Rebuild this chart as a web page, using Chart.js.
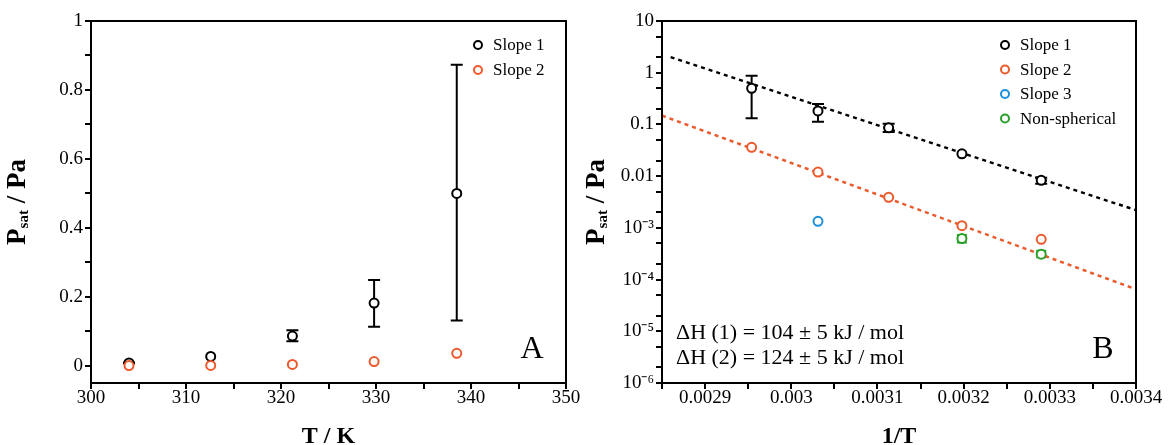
<!DOCTYPE html>
<html>
<head>
<meta charset="utf-8">
<title>Saturation vapour pressure</title>
<script src="https://cdn.jsdelivr.net/npm/chart.js@4/dist/chart.umd.min.js"></script>
<style>
  html, body { margin: 0; padding: 0; background: #fff; }
  #wrap { position: relative; width: 1168px; height: 445px; }
  #chartA { position: absolute; left: 0; top: 0; }
  #chartB { position: absolute; left: 580px; top: 0; }
</style>
</head>
<body>
<div id="wrap">
  <canvas id="chartA" width="580" height="445"></canvas>
  <canvas id="chartB" width="588" height="445"></canvas>
</div>
<script>
// measured points, same order in every array (low T first)
const tempK = [304.0, 312.6, 321.2, 329.8, 338.5];
const invT = [0.003290, 0.003198, 0.003113, 0.003031, 0.002954];
const slope1P = [0.0083, 0.027, 0.086, 0.182, 0.50];
const slope1Lo = [0.0071, 0.027, 0.071, 0.113, 0.131];
const slope1Hi = [0.0093, 0.027, 0.103, 0.249, 0.873];
const slope2P = [0.0006, 0.0011, 0.0039, 0.012, 0.036];

const slope3X = [0.003031];
const slope3P = [0.00134];

const nonSphX = [0.003290, 0.003198];
const nonSphP = [0.00031, 0.00062];
const nonSphLo = [0.00027, 0.00052];
const nonSphHi = [0.00036, 0.00073];

// Clausius-Clapeyron fit lines (end points)
const fit1X = [0.00286, 0.0034];
const fit1P = [2.0, 0.0022];
const fit2X = [0.00285, 0.0034];
const fit2P = [0.148, 0.000065];

// ticks
const tempTicks = [300, 305, 310, 315, 320, 325, 330, 335, 340, 345, 350];
const pressTicksA = [0, 0.1, 0.2, 0.3, 0.4, 0.5, 0.6, 0.7, 0.8, 0.9, 1];
const invTTicks = [0.00285, 0.0029, 0.00295, 0.003, 0.00305, 0.0031, 0.00315, 0.0032, 0.00325, 0.0033, 0.00335, 0.0034];
const pressTicksB = [1e-6, 2e-6, 5e-6, 1e-5, 2e-5, 5e-5, 1e-4, 2e-4, 5e-4, 1e-3, 2e-3, 5e-3,
  0.01, 0.02, 0.05, 0.1, 0.2, 0.5, 1, 2, 5, 10];

const BLACK = '#000000';
const ORANGE = '#ec5a2c';
const BLUE = '#1c8fd8';
const GREEN = '#2a9f2a';
const SERIF = "'Liberation Serif', 'Times New Roman', serif";

const pts = (xs, ys) => xs.map((x, i) => ({ x, y: ys[i] }));

function pointSet(label, xs, ys, color, order, extra) {
  return Object.assign({
    type: 'scatter',
    label,
    data: pts(xs, ys),
    borderColor: color,
    backgroundColor: '#ffffff',
    pointRadius: 4.5,
    pointBorderWidth: 2,
    pointHoverRadius: 4.5,
    order
  }, extra || {});
}

function fitSet(xs, ys, color) {
  return {
    type: 'line',
    label: '',
    data: pts(xs, ys),
    borderColor: color,
    borderWidth: 2.5,
    borderDash: [4, 4],
    pointRadius: 0,
    fill: false,
    order: 10,
    isFit: true
  };
}

// vertical error bars with caps, under the markers
const errorBars = {
  id: 'errorBars',
  beforeDatasetsDraw(chart) {
    const ctx = chart.ctx;
    const yScale = chart.scales.y;
    chart.data.datasets.forEach((ds, di) => {
      if (!ds.errLo) return;
      const meta = chart.getDatasetMeta(di);
      ctx.save();
      ctx.strokeStyle = ds.borderColor;
      ctx.lineWidth = 2;
      meta.data.forEach((el, i) => {
        if (ds.errLo[i] === ds.errHi[i]) return;
        const yl = yScale.getPixelForValue(ds.errLo[i]);
        const yh = yScale.getPixelForValue(ds.errHi[i]);
        const w = ds.capHalf || 6;
        ctx.beginPath();
        ctx.moveTo(el.x, yl); ctx.lineTo(el.x, yh);
        ctx.moveTo(el.x - w, yl); ctx.lineTo(el.x + w, yl);
        ctx.moveTo(el.x - w, yh); ctx.lineTo(el.x + w, yh);
        ctx.stroke();
      });
      ctx.restore();
    });
  }
};

// box frame, axis title with subscript, legend and panel notes
const decorations = {
  id: 'decorations',
  afterDraw(chart, args, opts) {
    const ctx = chart.ctx;
    const a = chart.chartArea;
    ctx.save();
    ctx.strokeStyle = BLACK;
    ctx.lineWidth = 2;
    ctx.strokeRect(a.left, a.top, a.right - a.left, a.bottom - a.top);

    // y title: P_sat / Pa
    const cy = (a.top + a.bottom) / 2;
    ctx.translate(opts.yTitleX, cy);
    ctx.rotate(-Math.PI / 2);
    ctx.fillStyle = BLACK;
    ctx.textBaseline = 'alphabetic';
    ctx.textAlign = 'left';
    const big = 'bold 27px ' + SERIF;
    const small = 'bold 15px ' + SERIF;
    ctx.font = big; const wP = ctx.measureText('P').width;
    ctx.font = small; const wS = ctx.measureText('sat').width;
    ctx.font = big; const wR = ctx.measureText(' / Pa').width;
    let x0 = -(wP + wS + wR) / 2;
    ctx.font = big; ctx.fillText('P', x0, 0);
    ctx.font = small; ctx.fillText('sat', x0 + wP, 3);
    ctx.font = big; ctx.fillText(' / Pa', x0 + wP + wS, 0);
    ctx.setTransform(1, 0, 0, 1, 0, 0);

    // x title
    ctx.font = 'bold 24px ' + SERIF;
    ctx.textAlign = 'center';
    ctx.fillText(opts.xTitle, (a.left + a.right) / 2, 443);

    // legend, scatter datasets only
    ctx.font = '17px ' + SERIF;
    ctx.textAlign = 'left';
    ctx.textBaseline = 'middle';
    const sets = chart.data.datasets.filter(d => !d.isFit)
      .sort((p, q) => p.legendRank - q.legendRank);
    sets.forEach((ds, i) => {
      const y = opts.legendY + i * opts.legendStep;
      ctx.beginPath();
      ctx.arc(opts.legendX, y, 4, 0, Math.PI * 2);
      ctx.fillStyle = '#fff';
      ctx.fill();
      ctx.strokeStyle = ds.borderColor;
      ctx.lineWidth = 2;
      ctx.stroke();
      ctx.fillStyle = BLACK;
      ctx.fillText(ds.label, opts.legendX + 15, y + 1);
    });

    // panel letter
    ctx.textBaseline = 'alphabetic';
    ctx.textAlign = 'center';
    ctx.font = '32px ' + SERIF;
    ctx.fillText(opts.letter, opts.letterX, 358);

    // notes
    ctx.textAlign = 'left';
    ctx.font = '22px ' + SERIF;
    (opts.notes || []).forEach((t, i) => ctx.fillText(t, opts.notesX, 339 + i * 25));
    ctx.restore();
  }
};

function axisX(ticks, min, max, fmt) {
  return {
    type: 'linear',
    min, max,
    afterBuildTicks: s => { s.ticks = ticks.map(v => ({ value: v })); },
    afterFit: s => { s.height = 62; s.paddingLeft = 0; s.paddingRight = 0; },
    border: { display: true, color: BLACK, width: 2 },
    grid: { drawOnChartArea: false, drawTicks: true, tickLength: 6, color: BLACK, lineWidth: 2 },
    ticks: {
      autoSkip: false, maxRotation: 0, padding: -2,
      color: BLACK, font: { family: SERIF, size: 19 },
      callback: fmt
    }
  };
}

function axisY(type, ticks, min, max, width, fmt) {
  return {
    type,
    min, max,
    afterBuildTicks: s => { s.ticks = ticks.map(v => ({ value: v })); },
    afterFit: s => { s.width = width; s.paddingTop = 0; s.paddingBottom = 0; },
    border: { display: true, color: BLACK, width: 2 },
    grid: { drawOnChartArea: false, drawTicks: true, tickLength: 6, color: BLACK, lineWidth: 2 },
    ticks: {
      autoSkip: false, padding: 2,
      color: BLACK, font: { family: SERIF, size: 19 },
      callback: fmt
    }
  };
}

const common = {
  responsive: false,
  animation: false,
  events: [],
  plugins: { legend: { display: false }, tooltip: { enabled: false } }
};

// Panel A: linear pressure against temperature
new Chart(document.getElementById('chartA'), {
  type: 'scatter',
  data: {
    datasets: [
      pointSet('Slope 2', tempK, slope2P, ORANGE, 0, { legendRank: 2 }),
      pointSet('Slope 1', tempK, slope1P, BLACK, 1,
        { legendRank: 1, errLo: slope1Lo, errHi: slope1Hi, capHalf: 6 })
    ]
  },
  options: Object.assign({}, common, {
    layout: { padding: { left: 0, right: 14, top: 21, bottom: 0 } },
    scales: {
      x: axisX(tempTicks, 300, 350, v => (v % 10 === 0 ? String(v) : '')),
      y: axisY('linear', pressTicksA, -0.05, 1, 91, v => {
        const r = Math.round(v * 10);
        if (r % 2 !== 0) return '';
        return r === 0 ? '0' : r === 10 ? '1' : (r / 10).toFixed(1);
      })
    },
    plugins: Object.assign({}, common.plugins, {
      decorations: {
        yTitleX: 25, xTitle: 'T / K',
        legendX: 478, legendY: 45, legendStep: 25,
        letter: 'A', letterX: 532
      }
    })
  }),
  plugins: [errorBars, decorations]
});

// Panel B: log pressure against 1/T
const sup = { '-': '\u207B', '1': '\u00B9', '2': '\u00B2', '3': '\u00B3', '4': '\u2074', '5': '\u2075', '6': '\u2076' };
function logLabel(v) {
  const lg = Math.log10(v);
  const e = Math.round(lg);
  if (Math.abs(lg - e) > 1e-6) return '';
  if (e >= 0) return String(Math.pow(10, e));
  if (e >= -2) return Math.pow(10, e).toFixed(-e);
  return '10' + String(e).split('').map(c => sup[c]).join('');
}

new Chart(document.getElementById('chartB'), {
  type: 'scatter',
  data: {
    datasets: [
      pointSet('Slope 2', invT, slope2P, ORANGE, 1, { legendRank: 2 }),
      pointSet('Slope 1', invT, slope1P, BLACK, 2,
        { legendRank: 1, errLo: slope1Lo, errHi: slope1Hi, capHalf: 6 }),
      pointSet('Slope 3', slope3X, slope3P, BLUE, 3, { legendRank: 3 }),
      pointSet('Non-spherical', nonSphX, nonSphP, GREEN, 4,
        { legendRank: 4, errLo: nonSphLo, errHi: nonSphHi, capHalf: 5 }),
      fitSet(fit1X, fit1P, BLACK),
      fitSet(fit2X, fit2P, ORANGE)
    ]
  },
  options: Object.assign({}, common, {
    layout: { padding: { left: 0, right: 32, top: 21, bottom: 0 } },
    scales: {
      x: axisX(invTTicks, 0.00285, 0.0034, v => {
        const k = Math.round(v * 1e5);
        return k % 10 === 0 ? String(parseFloat(v.toFixed(4))) : '';
      }),
      y: axisY('logarithmic', pressTicksB, 1e-6, 10, 82, logLabel)
    },
    plugins: Object.assign({}, common.plugins, {
      decorations: {
        yTitleX: 24, xTitle: '1/T',
        legendX: 425, legendY: 45, legendStep: 24.5,
        letter: 'B', letterX: 523,
        notes: ['\u0394H (1) = 104 \u00B1 5 kJ / mol', '\u0394H (2) = 124 \u00B1 5 kJ / mol'],
        notesX: 96
      }
    })
  }),
  plugins: [errorBars, decorations]
});
</script>
</body>
</html>
